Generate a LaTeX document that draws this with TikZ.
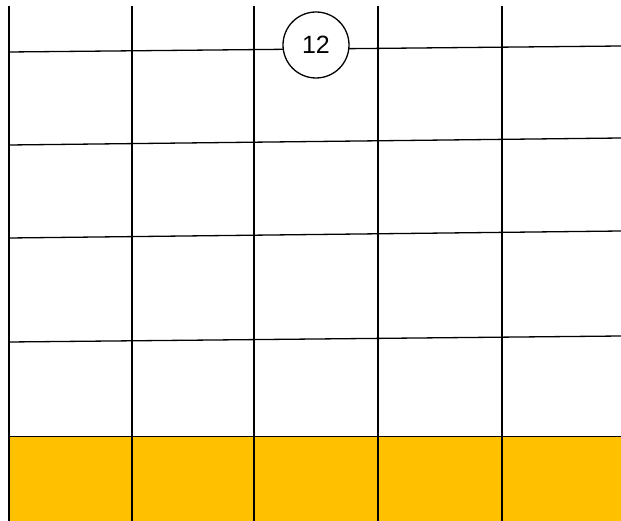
\documentclass[tikz,border=0pt]{standalone}
\usepackage{fontspec}
\setmainfont{Liberation Sans}
\definecolor{band}{HTML}{FFC000}
\begin{document}
\begin{tikzpicture}[x=1pt, y=-1pt, line width=1.3pt]
                    \useasboundingbox (0,0) rectangle (621,521);
                    % Band
                    \node[draw, fill=band, minimum width=612pt, minimum height=85pt, anchor=north west, inner sep=0pt] (base) at (9,436) {};
                    % Grid ends
                    \foreach \x [count=\i] in {9,132,254,378,502} {
                        \coordinate (t\i) at (\x,6);
                        \coordinate (b\i) at (\x,521);
                    }
                    \coordinate (l1) at (9,52);   \coordinate (r1) at (621,46);
                    \coordinate (l2) at (9,145);  \coordinate (r2) at (621,138);
                    \coordinate (l3) at (9,238);  \coordinate (r3) at (621,231);
                    \coordinate (l4) at (9,342);  \coordinate (r4) at (621,336);
                    % Edges
                    \foreach \i in {1,...,5} \draw[-] (t\i) -- (b\i);
                    \foreach \i in {1,...,4} \draw[-] (l\i) -- (r\i);
                    % Nodes
                    \node[circle, draw, fill=white, minimum size=66pt, inner sep=0pt, font=\fontsize{25}{30}\selectfont] (12) at (316,45) {12};
                \end{tikzpicture}
\end{document}
